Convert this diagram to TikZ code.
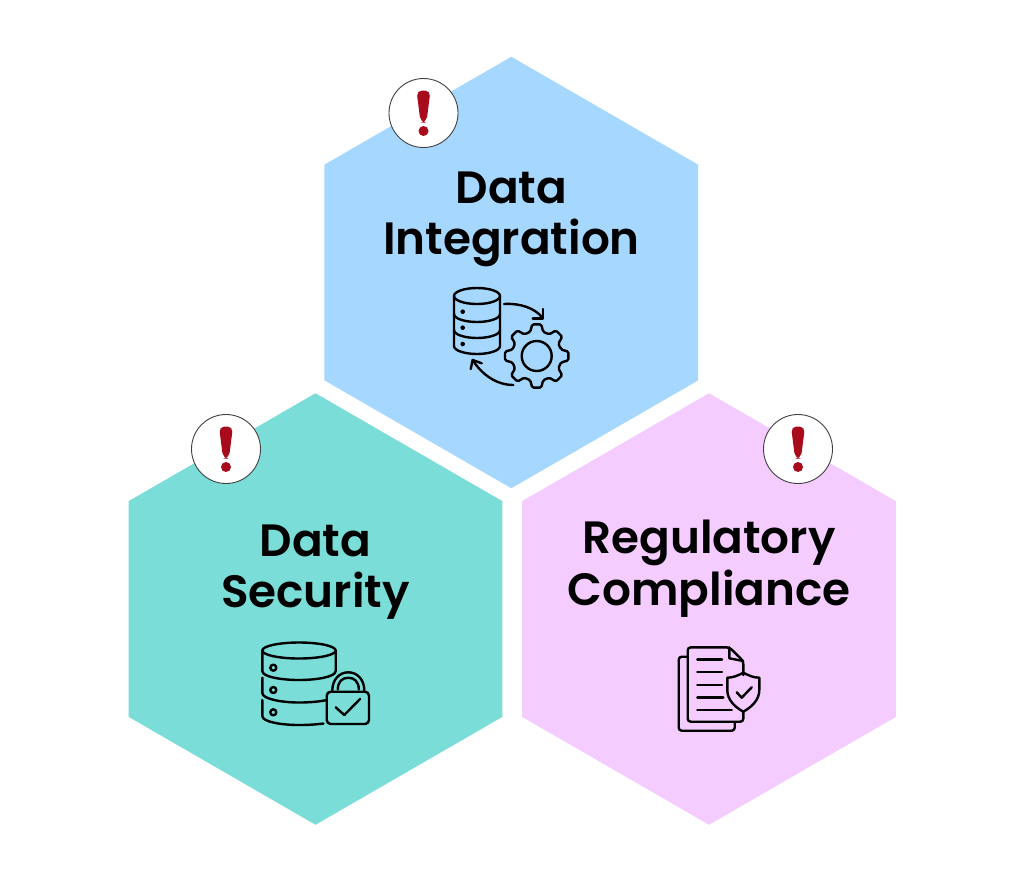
\documentclass[tikz,border=0pt]{standalone}
\usepackage{fontspec}
\usepackage{tikz}
\usetikzlibrary{shapes.geometric}
\setmainfont{Poppins SemiBold}
\definecolor{hexblue}{HTML}{A6D8FF}
\definecolor{hexteal}{HTML}{7ADDD8}
\definecolor{hexpink}{HTML}{F4CCFF}
\definecolor{alertred}{HTML}{A80C1C}
\begin{document}
\begin{tikzpicture}[x=1pt, y=-1pt,
    hexa/.style = {regular polygon, regular polygon sides=6, shape border rotate=30, minimum size=431.5pt, inner sep=0pt},
    title/.style = {font=\fontsize{45.3}{51.5}\selectfont, align=center, text=black},
    badge/.style = {draw=black!75, fill=white, circle, line width=0.9pt, minimum size=69pt, inner sep=0pt},
    iconline/.style = {draw=black, line width=2.4pt, line cap=round, line join=round},
    alertmark/.pic = {
        \fill[alertred, rounded corners=5.5pt] (-7,-22.5) -- (7,-22.5) -- (2.9,9.5) -- (-2.9,9.5) -- cycle;
        \fill[alertred] (0,18) circle (5);
    }]
    \useasboundingbox (0,0) rectangle (1024,876);
    \fill[white] (0,0) rectangle (1024,876);
    % hexagons
    \node[hexa, fill=hexblue] (integration) at (511.3,272.5) {};
    \node[hexa, fill=hexteal] (security) at (315.5,609) {};
    \node[hexa, fill=hexpink] (compliance) at (709,609) {};
    % badges
    \node[badge] (alert0) at (423.5,113) {};
    \node[badge] (alert1) at (226,449) {};
    \node[badge] (alert2) at (798,449) {};
    \pic at (alert0) {alertmark};
    \pic at (alert1) {alertmark};
    \pic at (alert2) {alertmark};
    % titles
    \node[title] (t0) at (511.5,219.5) {Data\\Integration};
    \node[title] (t1) at (315.5,572) {Data\\Security};
    \node[title] (t2) at (709,568.5) {Regulatory\\Compliance};
    % icon: database and gear
    \draw[iconline] (477,296) ellipse (23 and 8);
    \draw[iconline] (454,296) -- (454,346) .. controls (454,351) and (466,354) .. (477,354) .. controls (488,354) and (500,351) .. (500,346) -- (500,296);
    \draw[iconline] (454,314) .. controls (454,319) and (466,322) .. (477,322) .. controls (488,322) and (500,319) .. (500,314);
    \draw[iconline] (454,330) .. controls (454,335) and (466,338) .. (477,338) .. controls (488,338) and (500,335) .. (500,330);
    \fill (462.7,311.7) circle (2.3);
    \fill (462.7,327.7) circle (2.3);
    \fill (462.7,344) circle (2.3);
    \draw[iconline] (504,304) .. controls (520,303) and (535,308) .. (542.7,318);
    \draw[iconline] (542.7,309) -- (542.7,318.3) -- (532.7,318.3);
    \draw[iconline] (513.3,385) .. controls (497,385) and (482,375) .. (472.7,360);
    \draw[iconline] (470.7,369) -- (472.7,360) -- (481.7,363.3);
    \draw[iconline] (536.7,356) circle (15);
    \draw[iconline, rounded corners=1.5pt, shift={(536.7,356)}] (-15:25)
        \foreach \a in {0,45,...,315} {-- (\a-15:25) -- (\a-8:32) -- (\a+8:32) -- (\a+15:25)} -- cycle;
    % icon: database and lock
    \draw[iconline] (299,650.5) ellipse (36.7 and 8);
    \draw[iconline] (262.3,650.5) -- (262.3,671) .. controls (262.3,677) and (282,680) .. (299,680) .. controls (316,680) and (335.7,677) .. (335.7,671) -- (335.7,650.5);
    \draw[iconline] (262.3,677.7) -- (262.3,693) .. controls (262.3,699) and (282,702.5) .. (299,702.5) .. controls (310,702.5) and (320,701.5) .. (327,700);
    \draw[iconline] (262.3,700) -- (262.3,716) .. controls (262.3,722) and (282,725) .. (299,725) .. controls (308,725) and (316,724.5) .. (323.5,723.5);
    \draw[iconline] (273.3,667.7) circle (3);
    \draw[iconline] (273.3,690) circle (3);
    \draw[iconline] (273.3,712.3) circle (3);
    \draw[iconline, rounded corners=4pt] (326.7,691.7) rectangle (369,724);
    \draw[iconline] (332.3,690.5) .. controls (332.3,680) and (339,672.3) .. (348.3,672.3) .. controls (357.6,672.3) and (364.3,680) .. (364.3,690.5);
    \draw[iconline] (337.8,689.5) .. controls (337.8,682) and (342,677.7) .. (348.3,677.7) .. controls (354.6,677.7) and (358.8,682) .. (358.8,689.5);
    \draw[iconline] (335.7,707.3) -- (344.3,715) -- (360,699);
    % icon: documents and shield
    \draw[iconline, rounded corners=3pt] (743.3,675) -- (743.3,661) -- (729.3,647.3) -- (687.7,647.3) -- (687.7,721.7) -- (743.3,721.7) -- (743.3,711.7);
    \draw[iconline] (729.3,647.3) -- (729.3,658.3) -- (743.3,661);
    \draw[iconline, rounded corners=3pt] (687.7,656.7) -- (678.7,656.7) -- (678.7,730.7) -- (734.7,730.7) -- (734.7,722);
    \draw[iconline] (697.3,659.3) -- (722,659.3);
    \draw[iconline] (697.3,672) -- (722,672);
    \draw[iconline] (697.3,684.7) -- (722,684.7);
    \draw[iconline] (697.3,697.3) -- (723.3,697.3);
    \draw[iconline] (697.3,710) -- (731.7,710);
    \draw[iconline] (743.3,672.7) .. controls (737,676) and (733,677.5) .. (727.3,677.7) -- (727.3,690) .. controls (727.3,700) and (735,707) .. (743.3,711.7) .. controls (751.6,707) and (759.3,700) .. (759.3,690) -- (759.3,677.7) .. controls (753.6,677.5) and (749.6,676) .. (743.3,672.7) -- cycle;
    \draw[iconline] (736.7,692.3) -- (741.7,697.7) -- (751.7,687.3);
\end{tikzpicture}
\end{document}
